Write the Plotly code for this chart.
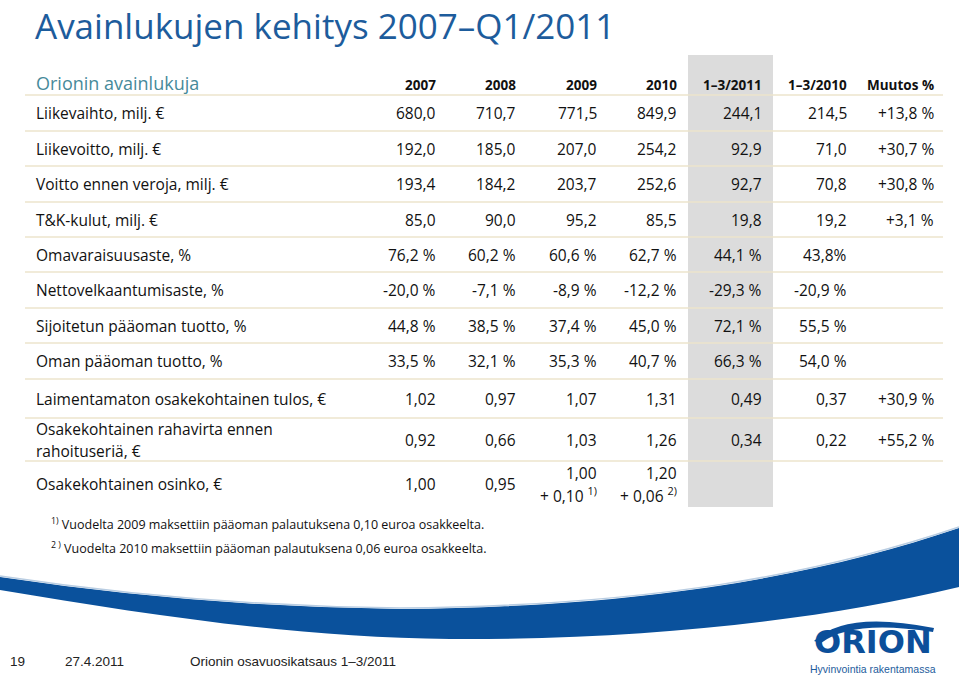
import plotly.graph_objects as go

title = "Avainlukujen kehitys 2007–Q1/2011"
subtitle = "Orionin avainlukuja"

columns = ["2007", "2008", "2009", "2010", "1–3/2011", "1–3/2010", "Muutos %"]

labels = [
    "Liikevaihto, milj. €",
    "Liikevoitto, milj. €",
    "Voitto ennen veroja, milj. €",
    "T&K-kulut, milj. €",
    "Omavaraisuusaste, %",
    "Nettovelkaantumisaste, %",
    "Sijoitetun pääoman tuotto, %",
    "Oman pääoman tuotto, %",
    "Laimentamaton osakekohtainen tulos, €",
    "Osakekohtainen rahavirta ennen<br>rahoituseriä, €",
    "Osakekohtainen osinko, €",
]

v2007 = ["680,0", "192,0", "193,4", "85,0", "76,2 %", "-20,0 %", "44,8 %", "33,5 %", "1,02", "0,92", "1,00"]
v2008 = ["710,7", "185,0", "184,2", "90,0", "60,2 %", "-7,1 %", "38,5 %", "32,1 %", "0,97", "0,66", "0,95"]
v2009 = ["771,5", "207,0", "203,7", "95,2", "60,6 %", "-8,9 %", "37,4 %", "35,3 %", "1,07", "1,03",
         "1,00<br>+ 0,10 <sup>1)</sup>"]
v2010 = ["849,9", "254,2", "252,6", "85,5", "62,7 %", "-12,2 %", "45,0 %", "40,7 %", "1,31", "1,26",
         "1,20<br>+ 0,06 <sup>2)</sup>"]
q1_2011 = ["244,1", "92,9", "92,7", "19,8", "44,1 %", "-29,3 %", "72,1 %", "66,3 %", "0,49", "0,34", ""]
q1_2010 = ["214,5", "71,0", "70,8", "19,2", "43,8%", "-20,9 %", "55,5 %", "54,0 %", "0,37", "0,22", ""]
muutos = ["+13,8 %", "+30,7 %", "+30,8 %", "+3,1 %", "", "", "", "", "+30,9 %", "+55,2 %", ""]

footnotes = [
    "<sup>1)</sup> Vuodelta 2009 maksettiin pääoman palautuksena 0,10 euroa osakkeelta.",
    "<sup>2 )</sup> Vuodelta 2010 maksettiin pääoman palautuksena 0,06 euroa osakkeelta.",
]

footer_page = "19"
footer_date = "27.4.2011"
footer_text = "Orionin osavuosikatsaus 1–3/2011"

# layout (pixels)
W, H = 959, 679
FONT = "Open Sans, Noto Sans, sans-serif"
NARROW = "Liberation Sans Narrow, Arial Narrow, Liberation Sans, sans-serif"
BLUE = "#1d5c9c"
col_right = [437, 517, 598, 678, 763, 848, 935]
bounds = [95, 131, 166, 202, 237, 272, 308, 343, 379, 418, 461, 507]
row_mid = [(bounds[i] + bounds[i + 1]) / 2 for i in range(len(labels))]
line_gap = 22

fig = go.Figure()
ann = []


def add_cell(x, y, text, anchor, size=15.5, color="#111111", family=FONT):
    lines = text.split("<br>")
    n = len(lines)
    for i, ln in enumerate(lines):
        ann.append(dict(x=x, y=y + (i - (n - 1) / 2) * line_gap, text=ln,
                        xanchor=anchor, yanchor="middle", showarrow=False,
                        font=dict(size=size, color=color, family=family)))


# title + subtitle
ann.append(dict(x=33, y=0, text=title, xanchor="left", yanchor="top", showarrow=False,
                font=dict(size=35, color=BLUE, family=FONT)))
ann.append(dict(x=34, y=83, text=subtitle, xanchor="left", yanchor="middle", showarrow=False,
                font=dict(size=18, color="#468a9a", family=FONT)))

# column headers
for c, xr in zip(columns, col_right):
    ann.append(dict(x=xr + 1, y=85, text="<b>%s</b>" % c, xanchor="right", yanchor="middle",
                    showarrow=False, font=dict(size=13.5, color="#111111", family=FONT)))

# body
series = [v2007, v2008, v2009, v2010, q1_2011, q1_2010, muutos]
for r, lab in enumerate(labels):
    add_cell(34, row_mid[r], lab, "left")
    for vals, xr in zip(series, col_right):
        if vals[r]:
            add_cell(xr + 1, row_mid[r], vals[r], "right")

# footnotes
for i, fn in enumerate(footnotes):
    ann.append(dict(x=49, y=524 + i * 24, text=fn, xanchor="left", yanchor="middle",
                    showarrow=False, font=dict(size=12.5, color="#111111", family=FONT)))

# footer
for x, t in [(8, footer_page), (63, footer_date), (188, footer_text)]:
    ann.append(dict(x=x, y=661, text=t, xanchor="left", yanchor="middle", showarrow=False,
                    font=dict(size=13.5, color="#222222", family=NARROW)))

# logo text
ann.append(dict(x=873, y=642, text="<b>ORION</b>", xanchor="center", yanchor="middle",
                showarrow=False, font=dict(size=32, color="#0c4f9a", family="DejaVu Sans")))
ann.append(dict(x=873, y=669, text="Hyvinvointia rakentamassa", xanchor="center", yanchor="middle",
                showarrow=False, font=dict(size=10.5, color=BLUE, family=NARROW)))

shapes = []
# grey highlight column
shapes.append(dict(type="rect", x0=688, x1=773, y0=55, y1=507, fillcolor="#dcdcdc",
                   line_width=0, layer="below"))
# row separators
for y in bounds[:-1]:
    shapes.append(dict(type="line", x0=25, x1=943, y0=y, y1=y,
                       line=dict(color="#ece4cc", width=1.6), layer="below"))
# blue swoosh
shapes.append(dict(type="path",
                   path="M 0,577 Q 200,607 400,609 C 650,607 820,575 959,528 L 959,587 "
                        "C 820,620 650,640 450,639 C 300,638 150,615 0,590 Z",
                   fillcolor="#0a519c", line=dict(color="#0a519c", width=0)))
shapes.append(dict(type="path",
                   path="M 0,576 Q 200,606 400,608 C 650,606 820,574 959,527",
                   line=dict(color="#b9cde2", width=1.5)))
# logo arc
shapes.append(dict(type="path",
                   path="M 814,641 Q 845,610 934,628 L 933,632 Q 852,619 821,643 Z",
                   fillcolor="#0c4f9a", line=dict(color="#0c4f9a", width=0)))

fig.update_layout(
    width=W, height=H,
    margin=dict(l=0, r=0, t=0, b=0),
    paper_bgcolor="white", plot_bgcolor="white",
    xaxis=dict(range=[0, W], visible=False, fixedrange=True),
    yaxis=dict(range=[H, 0], visible=False, fixedrange=True),
    annotations=ann, shapes=shapes, showlegend=False,
)

# page body has a default 8px margin; drop it so the slide sits at the corner
fig.write_html("out.html", config={"displayModeBar": False},
               post_script="document.body.style.margin='0px';")
